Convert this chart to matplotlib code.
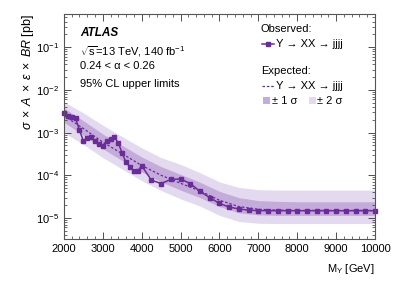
import matplotlib
matplotlib.use("Agg")
import matplotlib.pyplot as plt
from matplotlib.lines import Line2D
from matplotlib.patches import Rectangle
from matplotlib.ticker import MultipleLocator, LogLocator, NullFormatter
import numpy as np

plt.rcParams['font.family'] = ['Liberation Sans', 'DejaVu Sans']
plt.rcParams['mathtext.fontset'] = 'custom'
plt.rcParams['mathtext.rm'] = 'Liberation Sans'
plt.rcParams['mathtext.it'] = 'Liberation Sans:italic'
plt.rcParams['mathtext.bf'] = 'Liberation Sans:bold'

# Observed limit
obs_mass = [2000, 2100, 2200, 2300, 2400, 2500, 2600, 2700, 2800, 2900, 3000,
            3100, 3200, 3300, 3400, 3500, 3600, 3700, 3800, 3900, 4000,
            4250, 4500, 4750, 5000, 5250, 5500, 5750, 6000, 6250, 6500, 6750,
            7000, 7250, 7500, 7750, 8000, 8250, 8500, 8750, 9000, 9250, 9500,
            9750, 10000]
obs_limit = [2.9e-3, 2.5e-3, 2.3e-3, 2.2e-3, 1.15e-3, 6.5e-4, 7.4e-4, 8.0e-4, 6.3e-4, 5.4e-4, 4.8e-4,
             6.3e-4, 7.2e-4, 7.8e-4, 5.7e-4, 3.3e-4, 2.0e-4, 1.6e-4, 1.28e-4, 1.25e-4, 1.68e-4,
             7.7e-5, 6.4e-5, 8.0e-5, 8.2e-5, 6.4e-5, 4.2e-5, 3.0e-5, 2.2e-5, 1.8e-5, 1.63e-5, 1.52e-5,
             1.49e-5, 1.48e-5, 1.48e-5, 1.48e-5, 1.48e-5, 1.48e-5, 1.48e-5, 1.48e-5, 1.48e-5, 1.48e-5, 1.48e-5,
             1.48e-5, 1.48e-5]

# Expected limit and bands
exp_mass = [2000, 2500, 3000, 3500, 4000, 4500, 5000, 5500, 6000, 6500, 7000,
            7500, 8000, 8500, 9000, 9500, 10000]
exp_limit = [2.5e-3, 1.25e-3, 6.0e-4, 3.2e-4, 1.7e-4, 1.0e-4, 6.5e-5, 4.3e-5, 2.6e-5, 1.85e-5, 1.6e-5,
             1.53e-5, 1.5e-5, 1.5e-5, 1.5e-5, 1.5e-5, 1.5e-5]
exp_p1 = [3.8e-3, 1.9e-3, 9.3e-4, 5.0e-4, 2.7e-4, 1.6e-4, 1.05e-4, 6.9e-5, 4.2e-5, 3.0e-5, 2.55e-5,
          2.45e-5, 2.4e-5, 2.4e-5, 2.4e-5, 2.4e-5, 2.4e-5]
exp_m1 = [1.75e-3, 8.7e-4, 4.2e-4, 2.2e-4, 1.2e-4, 7.0e-5, 4.5e-5, 3.0e-5, 1.85e-5, 1.32e-5, 1.18e-5,
          1.15e-5, 1.15e-5, 1.15e-5, 1.15e-5, 1.15e-5, 1.15e-5]
exp_p2 = [5.3e-3, 2.9e-3, 1.5e-3, 8.0e-4, 4.4e-4, 2.6e-4, 1.8e-4, 1.15e-4, 7.0e-5, 5.2e-5, 4.6e-5,
          4.5e-5, 4.5e-5, 4.5e-5, 4.5e-5, 4.5e-5, 4.5e-5]
exp_m2 = [1.0e-3, 5.3e-4, 2.6e-4, 1.4e-4, 7.5e-5, 4.4e-5, 2.8e-5, 1.9e-5, 1.15e-5, 8.3e-6, 7.5e-6,
          7.4e-6, 7.4e-6, 7.4e-6, 7.4e-6, 7.4e-6, 7.4e-6]

c_obs = '#6a2c96'
c_1s = '#c4acda'
c_2s = '#e4daef'
c_exp = '#6a2c96'
MS = 3.0

fig = plt.figure(figsize=(3.99, 2.86), dpi=100)
ax = fig.add_axes([0.160, 0.164, 0.780, 0.787])

ax.fill_between(exp_mass, exp_m2, exp_p2, color=c_2s, lw=0)
ax.fill_between(exp_mass, exp_m1, exp_p1, color=c_1s, lw=0)
ax.plot(exp_mass, exp_limit, ls=(0, (2, 1.5)), color=c_exp, lw=0.9)
ax.plot(obs_mass, obs_limit, '-s', color=c_obs, lw=1.1, ms=MS, clip_on=False)

ax.set_yscale('log')
ax.set_xlim(2000, 10000)
ax.set_ylim(3.2e-6, 0.6)
ax.xaxis.set_major_locator(MultipleLocator(1000))
ax.xaxis.set_minor_locator(MultipleLocator(200))
ax.yaxis.set_major_locator(LogLocator(base=10, numticks=20))
ax.yaxis.set_minor_locator(LogLocator(base=10, subs=np.arange(2, 10), numticks=20))
ax.yaxis.set_minor_formatter(NullFormatter())
ax.tick_params(which='both', direction='in', top=True, right=True, labelsize=8, colors='#333333',
               labelcolor='black')
ax.tick_params(which='major', length=5, width=0.6)
ax.tick_params(which='minor', length=2.5, width=0.5)
for s in ax.spines.values():
    s.set_color('#555555')
    s.set_linewidth(0.8)

ax.set_ylabel(r'$\sigma\;\times\;\mathit{A}\;\times\;\epsilon\;\times\;\mathit{BR}$ [pb]', fontsize=9,
              loc='top', labelpad=0)
ax.set_xlabel(r'M$_\mathrm{Y}$ [GeV]', fontsize=8, loc='right', labelpad=6)

tx = 0.052
ax.text(tx, 0.915, 'ATLAS', transform=ax.transAxes, fontsize=8.5, fontweight='bold',
        fontstyle='italic', va='center')
ax.text(tx, 0.835, r'$\sqrt{\mathrm{s}}$=13 TeV, 140 fb$^{-1}$', transform=ax.transAxes,
        fontsize=8, va='center')
ax.text(tx, 0.77, '0.24 < α < 0.26', transform=ax.transAxes, fontsize=8, va='center')
ax.text(tx, 0.69, '95% CL upper limits', transform=ax.transAxes, fontsize=8, va='center')

lx = 0.633
proc = 'Y → XX → jjjj'
ax.text(lx, 0.935, 'Observed:', transform=ax.transAxes, fontsize=8, va='center')
ax.add_line(Line2D([lx + 0.005, lx + 0.042], [0.865, 0.865], transform=ax.transAxes,
                   color=c_obs, lw=1.1, clip_on=False))
ax.add_line(Line2D([lx + 0.0235], [0.865], transform=ax.transAxes,
                   color=c_obs, marker='s', ms=MS, clip_on=False))
ax.text(lx + 0.050, 0.865, proc, transform=ax.transAxes, fontsize=8, va='center')
ax.text(lx, 0.745, 'Expected:', transform=ax.transAxes, fontsize=8, va='center')
ax.add_line(Line2D([lx + 0.005, lx + 0.042], [0.68, 0.68], transform=ax.transAxes,
                   color=c_exp, lw=0.9, ls=(0, (2, 1.5))))
ax.text(lx + 0.050, 0.68, proc, transform=ax.transAxes, fontsize=8, va='center')
ax.add_patch(Rectangle((lx + 0.008, 0.598), 0.022, 0.034, transform=ax.transAxes,
                       color=c_1s, lw=0))
ax.text(lx + 0.035, 0.615, '± 1 σ', transform=ax.transAxes, fontsize=8, va='center')
ax.add_patch(Rectangle((lx + 0.155, 0.598), 0.022, 0.034, transform=ax.transAxes,
                       color=c_2s, lw=0))
ax.text(lx + 0.182, 0.615, '± 2 σ', transform=ax.transAxes, fontsize=8, va='center')

fig.savefig('out.png', dpi=100)
